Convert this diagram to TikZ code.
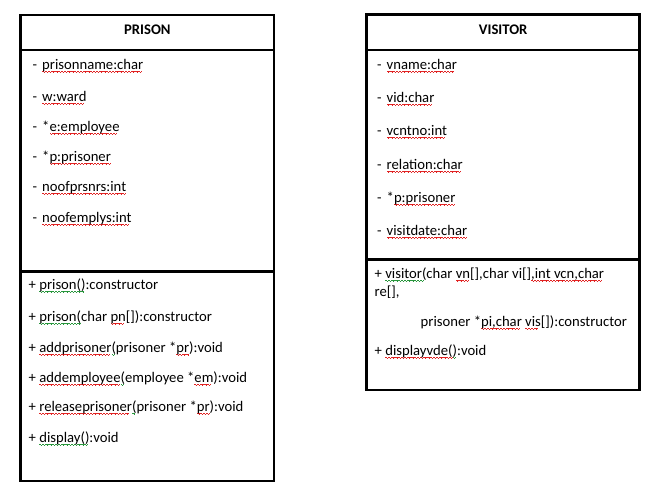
\documentclass[tikz,border=0pt]{standalone}
\usepackage{fontspec}
\setmainfont{Carlito}
\usepackage{xcolor}
\definecolor{sqred}{RGB}{225,35,35}
\definecolor{sqgreen}{RGB}{40,150,60}
\newcommand\sqpat{\hbox{\rule[-2.2pt]{0.8pt}{0.9pt}\rule[-2.8pt]{0.8pt}{0.9pt}\rule[-3.4pt]{0.8pt}{0.9pt}\rule[-2.8pt]{0.8pt}{0.9pt}}}
\newcommand\sqg[2]{\leavevmode\setbox0\hbox{#2}\rlap{\hbox to\wd0{\color{#1}\leaders\sqpat\hfill}}\box0\relax}
\newcommand\rw[1]{\sqg{sqred}{#1}}
\newcommand\gw[1]{\sqg{sqgreen}{#1}}
\newcommand\dsh{\makebox[9.5pt][l]{-}}
\tikzset{
  classbox/.style={draw, line width=2.6pt, inner sep=0pt},
  sepline/.style={line width=2.6pt},
  txt/.style={anchor=base west, inner sep=0pt, font=\fontsize{14.67}{17.9}\selectfont},
  ttl/.style={anchor=base, inner sep=0pt, font=\fontsize{14.67}{17.9}\selectfont\bfseries}
}
\begin{document}
\begin{tikzpicture}[x=1pt,y=-1pt]
\useasboundingbox[fill=white] (0,0) rectangle (657,498);
% PRISON
\node[classbox, minimum width=253.3pt, minimum height=466pt] (pbox) at (147.35,248) {};
\coordinate (ps1) at (20.7,50);
\coordinate (ps2) at (20.7,271.3);
\draw[sepline] (ps1) -- (ps1 -| pbox.east);
\draw[sepline] (ps2) -- (ps2 -| pbox.east);
\node[ttl] (ptitle) at (147.35,34.3) {PRISON};
\node[txt] (pa1) at (32.5,69.5) {\dsh\rw{prisonname:char}};
\node[txt] (pa2) at (32.5,101.5) {\dsh\rw{w:ward}};
\node[txt] (pa3) at (32.5,131.5) {\dsh*\rw{e:employee}};
\node[txt] (pa4) at (32.5,161.5) {\dsh*\rw{p:prisoner}};
\node[txt] (pa5) at (32.5,191.5) {\dsh\rw{noofprsnrs:int}};
\node[txt] (pa6) at (32.5,222.5) {\dsh\rw{noofemplys:int}};
\node[txt] (pm1) at (28.5,289.5) {+ \gw{prison()}:constructor};
\node[txt] (pm2) at (28.5,321.5) {+ \gw{prison(}char \rw{pn}[]):constructor};
\node[txt] (pm3) at (28.5,352.5) {+ \rw{addprisoner}\gw{(}prisoner *\rw{pr}):void};
\node[txt] (pm4) at (28.5,382.5) {+ \rw{addemployee}\gw{(}employee *\rw{em}):void};
\node[txt] (pm5) at (28.5,411.5) {+ \rw{releaseprisoner}\gw{(}prisoner *\rw{pr}):void};
\node[txt] (pm6) at (28.5,442.5) {+ \gw{display()}:void};
% VISITOR
\node[classbox, minimum width=273pt, minimum height=375.3pt] (vbox) at (503.2,202.35) {};
\coordinate (vs1) at (366.7,50);
\coordinate (vs2) at (366.7,259.2);
\draw[sepline] (vs1) -- (vs1 -| vbox.east);
\draw[sepline] (vs2) -- (vs2 -| vbox.east);
\node[ttl] (vtitle) at (503.2,34.3) {VISITOR};
\node[txt] (va1) at (377,69.5) {\dsh\rw{vname:char}};
\node[txt] (va2) at (377,102.5) {\dsh\rw{vid:char}};
\node[txt] (va3) at (377,135.5) {\dsh\rw{vcntno:int}};
\node[txt] (va4) at (377,169.5) {\dsh\rw{relation:char}};
\node[txt] (va5) at (377,202.5) {\dsh*\rw{p:prisoner}};
\node[txt] (va6) at (377,235.5) {\dsh\rw{visitdate:char}};
\node[txt] (vm1) at (374.5,278.5) {+ \gw{visitor(}char \rw{vn}[],char vi[]\rw{,int vcn,char}};
\node[txt] (vm1b) at (374.5,296.5) {re[],};
\node[txt] (vm1c) at (420.5,326.5) {prisoner *\rw{pi,char} \rw{vis}[]):constructor};
\node[txt] (vm2) at (374.5,355.5) {+ \rw{displayvde(}\gw{)}:void};
\end{tikzpicture}
\end{document}
